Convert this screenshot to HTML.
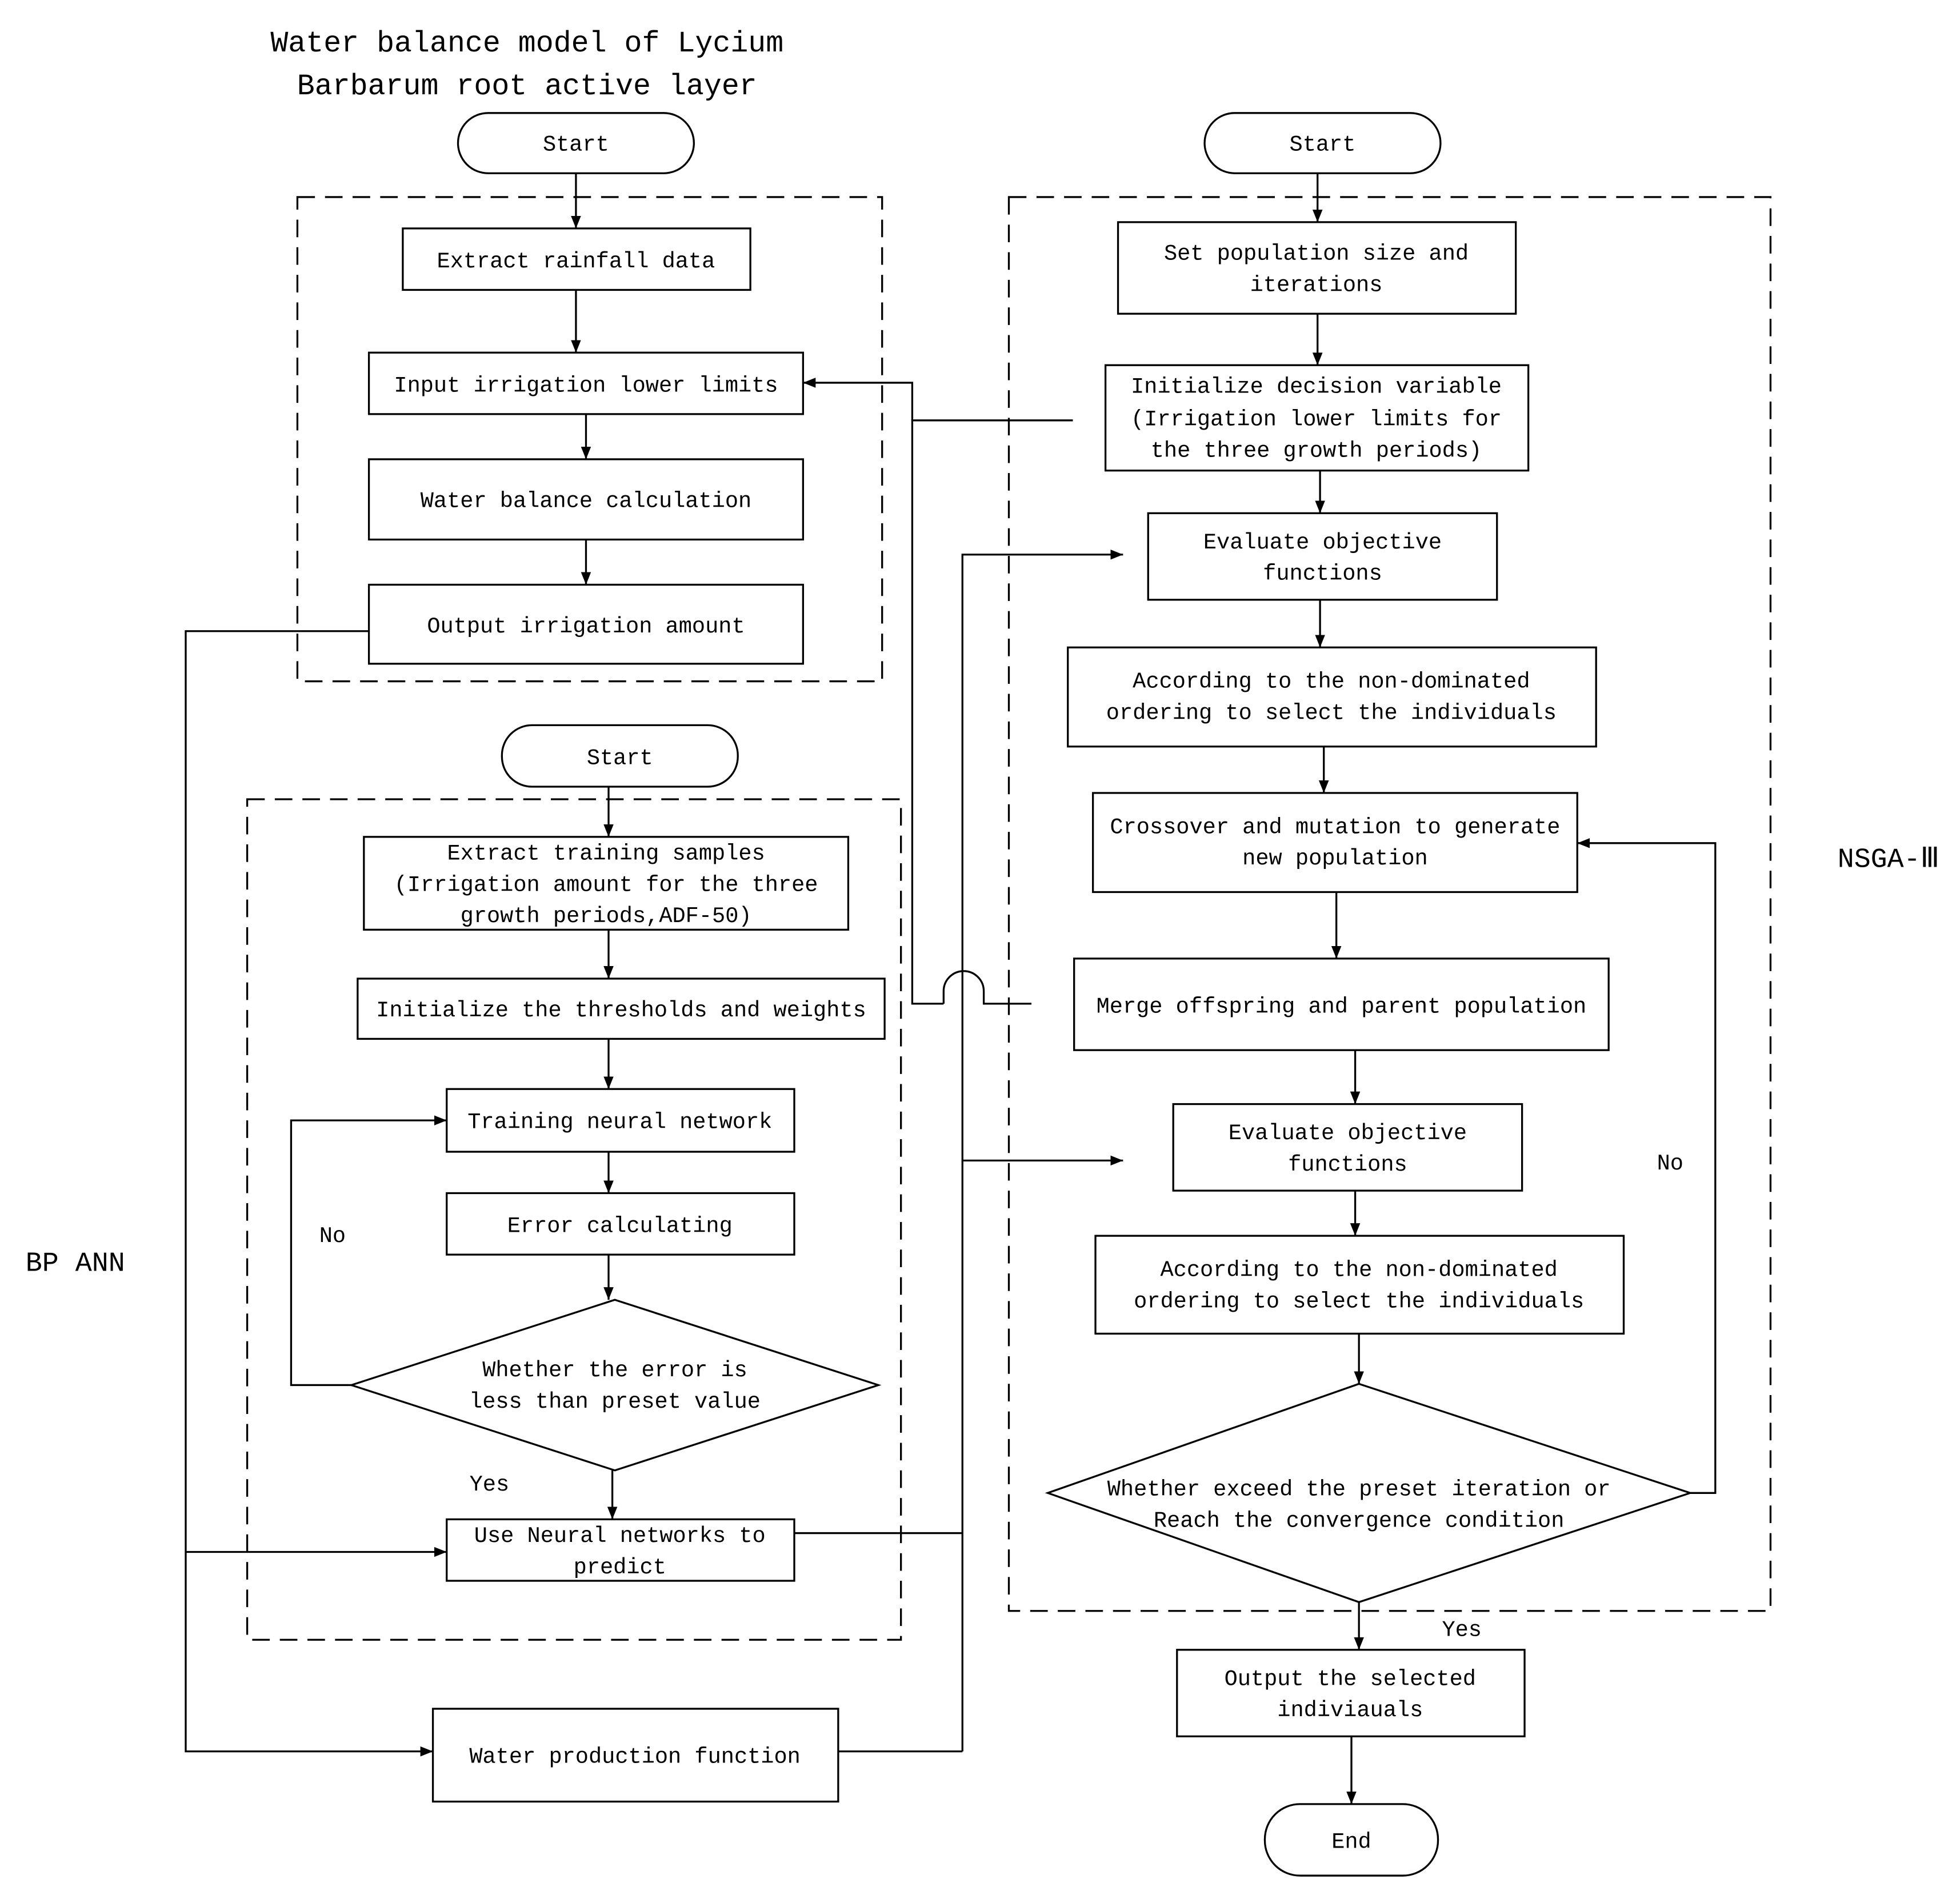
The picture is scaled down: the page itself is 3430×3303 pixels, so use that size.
<!DOCTYPE html>
<html><head><meta charset="utf-8"><style>html,body{margin:0;padding:0;background:#fff}svg{display:block}</style></head>
<body>
<svg width="3430" height="3303" viewBox="0 0 1562 1504" xmlns="http://www.w3.org/2000/svg">
<defs><marker id="a" markerWidth="10" markerHeight="8" refX="10" refY="4" orient="auto" markerUnits="userSpaceOnUse"><path d="M0,0 L10,4 L0,8 z" fill="#000"/></marker></defs>
<rect width="1562" height="1504" fill="#fff"/>
<g font-family="Liberation Mono, monospace" font-size="17.6" text-anchor="middle" fill="#000">
<text x="420" y="41" font-size="23.5">Water balance model of Lycium</text>
<text x="420" y="75" font-size="23.5">Barbarum root active layer</text>
<text x="60" y="1013" font-size="22">BP ANN</text>
<text x="1505" y="691" font-size="22">NSGA-Ⅲ</text>
</g>
<g fill="none" stroke="#000" stroke-width="1.5">
<rect x="237" y="157" width="466" height="386" stroke-dasharray="14,8"/>
<rect x="197" y="637" width="521" height="670" stroke-dasharray="14,8"/>
<rect x="804" y="157" width="607" height="1127" stroke-dasharray="14,8"/>
<rect x="365" y="90" width="188" height="48" rx="24"/>
<rect x="400" y="578" width="188" height="49" rx="24"/>
<rect x="960" y="90" width="188" height="48" rx="24"/>
<rect x="1008" y="1438" width="138" height="57" rx="28"/>
<rect x="321" y="182" width="277" height="49"/>
<rect x="294" y="281" width="346" height="49"/>
<rect x="294" y="366" width="346" height="64"/>
<rect x="294" y="466" width="346" height="63"/>
<rect x="290" y="667" width="386" height="74"/>
<rect x="285" y="780" width="420" height="48"/>
<rect x="356" y="868" width="277" height="50"/>
<rect x="356" y="951" width="277" height="49"/>
<polygon points="490,1036 700,1104 490,1172 280,1104"/>
<rect x="356" y="1211" width="277" height="49"/>
<rect x="345" y="1362" width="323" height="74"/>
<rect x="891" y="177" width="317" height="73"/>
<rect x="881" y="291" width="337" height="84"/>
<rect x="915" y="409" width="278" height="69"/>
<rect x="851" y="516" width="421" height="79"/>
<rect x="871" y="632" width="386" height="79"/>
<rect x="856" y="764" width="426" height="73"/>
<rect x="935" y="880" width="278" height="69"/>
<rect x="873" y="985" width="421" height="78"/>
<polygon points="1083,1103 1347,1190 1083,1277 835,1190"/>
<rect x="938" y="1315" width="277" height="69"/>
</g>
<g fill="none" stroke="#000" stroke-width="1.5" marker-end="url(#a)">
<line x1="459" y1="138" x2="459" y2="182"/>
<line x1="459" y1="231" x2="459" y2="281"/>
<line x1="467" y1="330" x2="467" y2="366"/>
<line x1="467" y1="430" x2="467" y2="466"/>
<line x1="485" y1="627" x2="485" y2="667"/>
<line x1="485" y1="741" x2="485" y2="780"/>
<line x1="485" y1="828" x2="485" y2="868"/>
<line x1="485" y1="918" x2="485" y2="951"/>
<line x1="485" y1="1000" x2="485" y2="1036"/>
<line x1="488" y1="1172" x2="488" y2="1211"/>
<polyline points="280,1104 232,1104 232,893 356,893"/>
<polyline points="294,503 148,503 148,1396 345,1396"/>
<line x1="148" y1="1237" x2="356" y2="1237"/>
<polyline points="767,1396 767,442 895,442"/>
<line x1="767" y1="925" x2="895" y2="925"/>
<polyline points="727,335 727,305 640,305"/>
<line x1="1050" y1="138" x2="1050" y2="177"/>
<line x1="1050" y1="250" x2="1050" y2="291"/>
<line x1="1052" y1="375" x2="1052" y2="409"/>
<line x1="1052" y1="478" x2="1052" y2="516"/>
<line x1="1055" y1="595" x2="1055" y2="632"/>
<line x1="1065" y1="711" x2="1065" y2="764"/>
<line x1="1080" y1="837" x2="1080" y2="880"/>
<line x1="1080" y1="949" x2="1080" y2="985"/>
<line x1="1083" y1="1063" x2="1083" y2="1103"/>
<line x1="1083" y1="1277" x2="1083" y2="1315"/>
<line x1="1077" y1="1384" x2="1077" y2="1438"/>
<polyline points="1347,1190 1367,1190 1367,672 1257,672"/>
</g>
<g fill="none" stroke="#000" stroke-width="1.5">
<polyline points="633,1222 767,1222"/>
<polyline points="668,1396 767,1396"/>
<polyline points="855,335 727,335 727,800 752,800"/>
<path d="M752,800 L752,790 A15,15 0 0 1 784,790 L784,800 L822,800"/>
</g>
<g font-family="Liberation Mono, monospace" font-size="17.6" text-anchor="middle" fill="#000">
<text x="459" y="120">Start</text>
<text x="494" y="609">Start</text>
<text x="1054" y="120">Start</text>
<text x="1077" y="1473">End</text>
<text x="459" y="213">Extract rainfall data</text>
<text x="467" y="312">Input irrigation lower limits</text>
<text x="467" y="404">Water balance calculation</text>
<text x="467" y="504">Output irrigation amount</text>
<text x="483" y="685">Extract training samples</text>
<text x="483" y="710">(Irrigation amount for the three</text>
<text x="483" y="735">growth periods,ADF-50)</text>
<text x="495" y="810">Initialize the thresholds and weights</text>
<text x="494" y="899">Training neural network</text>
<text x="494" y="982">Error calculating</text>
<text x="490" y="1097">Whether the error is</text>
<text x="490" y="1122">less than preset value</text>
<text x="494" y="1229">Use Neural networks to</text>
<text x="494" y="1254">predict</text>
<text x="506" y="1405">Water production function</text>
<text x="265" y="990">No</text>
<text x="390" y="1188">Yes</text>
<text x="1049" y="207">Set population size and</text>
<text x="1049" y="232">iterations</text>
<text x="1049" y="313">Initialize decision variable</text>
<text x="1049" y="339">(Irrigation lower limits for</text>
<text x="1049" y="364">the three growth periods)</text>
<text x="1054" y="437">Evaluate objective</text>
<text x="1054" y="462">functions</text>
<text x="1061" y="548">According to the non-dominated</text>
<text x="1061" y="573">ordering to select the individuals</text>
<text x="1064" y="664">Crossover and mutation to generate</text>
<text x="1064" y="689">new population</text>
<text x="1069" y="807">Merge offspring and parent population</text>
<text x="1074" y="908">Evaluate objective</text>
<text x="1074" y="933">functions</text>
<text x="1083" y="1017">According to the non-dominated</text>
<text x="1083" y="1042">ordering to select the individuals</text>
<text x="1083" y="1192">Whether exceed the preset iteration or</text>
<text x="1083" y="1217">Reach the convergence condition</text>
<text x="1076" y="1343">Output the selected</text>
<text x="1076" y="1368">indiviauals</text>
<text x="1331" y="932">No</text>
<text x="1165" y="1304">Yes</text>
</g>
</svg>
</body></html>
